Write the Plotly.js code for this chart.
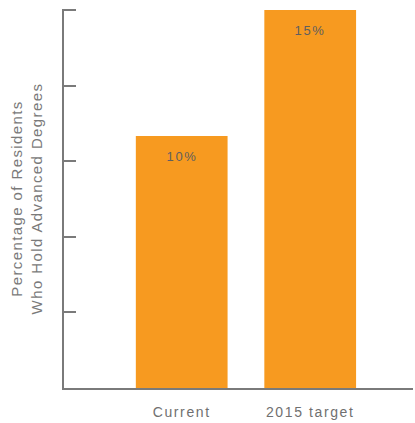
<!DOCTYPE html>
<html>
<head>
<meta charset="utf-8">
<script src="https://cdn.plot.ly/plotly-3.0.1.min.js"></script>
<style>
html,body{margin:0;padding:0;background:#fff;}
#chart{width:415px;height:423px;}
#chart svg text{letter-spacing:1.6px;}
#chart svg text.ytitle{letter-spacing:1.4px;}
</style>
</head>
<body>
<div id="chart"></div>
<script>
var categories = ['Current', '2015 target'];
var values = [10, 15];
var valueLabels = ['10%', '15%'];
var yTicks = [0, 3, 6, 9, 12, 15];

var trace = {
  type: 'bar',
  x: categories,
  y: values,
  width: 0.714,
  marker: {color: '#F79A20', line: {width: 0}},
  hoverinfo: 'none'
};

var annotations = categories.map(function (c, i) {
  return {
    x: c, y: values[i], xref: 'x', yref: 'y',
    text: valueLabels[i], showarrow: false,
    yanchor: 'middle', yshift: -20,
    font: {family: 'Liberation Sans, Arial, sans-serif', size: 13, color: '#5f5f5f'}
  };
});

var layout = {
  width: 415, height: 423,
  margin: {l: 64, r: 2, t: 9, b: 35},
  paper_bgcolor: '#fff', plot_bgcolor: '#fff',
  showlegend: false,
  font: {family: 'Liberation Sans, Arial, sans-serif', color: '#7a7a7a', size: 13},
  xaxis: {
    type: 'category',
    range: [-0.916, 1.80],
    showline: true, linecolor: '#7a7a7a', linewidth: 2,
    showgrid: false, zeroline: false, ticks: '',
    ticklabelstandoff: 10,
    tickfont: {size: 14, color: '#707070'},
    fixedrange: true
  },
  yaxis: {
    range: [0, 15.04],
    tickvals: yTicks,
    showticklabels: false,
    ticks: 'inside', ticklen: 12, tickwidth: 2, tickcolor: '#7a7a7a',
    showline: true, linecolor: '#7a7a7a', linewidth: 2,
    showgrid: false, zeroline: false,
    title: {text: 'Percentage of Residents<br>Who Hold Advanced Degrees',
            standoff: 16,
            font: {size: 15, color: '#7a7a7a'}},
    fixedrange: true
  },
  annotations: annotations
};

Plotly.newPlot('chart', [trace], layout, {displayModeBar: false, staticPlot: true});
</script>
</body>
</html>
